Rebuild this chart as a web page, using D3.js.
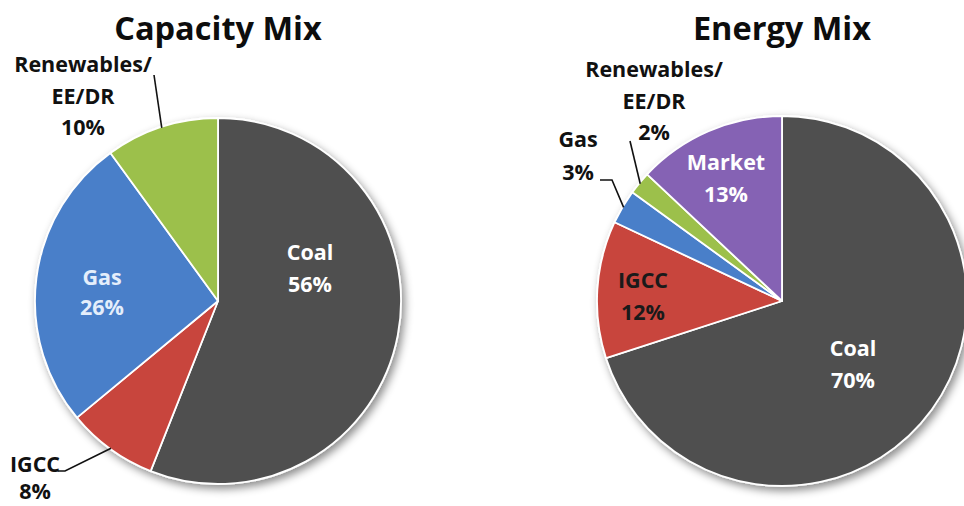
<!DOCTYPE html>
<html>
<head>
<meta charset="utf-8">
<script src="https://cdn.jsdelivr.net/npm/d3@7"></script>
<style>
  html, body { margin: 0; padding: 0; background: #ffffff; }
  svg { display: block; }
  text { font-family: "Open Sans", "Noto Sans", sans-serif; font-weight: 700; }
</style>
</head>
<body>
<svg id="chart" width="964" height="506"></svg>
<script>
// Generation capacity and energy shares (percent)
const capacityCategories = ["Coal", "IGCC", "Gas", "Renewables/EE/DR"];
const capacityShares = [56, 8, 26, 10];

const energyCategories = ["Coal", "IGCC", "Gas", "Renewables/EE/DR", "Market"];
const energyShares = [70, 12, 3, 2, 13];

const titles = ["Capacity Mix", "Energy Mix"];

// Fill colour per resource type
const colorScale = d3.scaleOrdinal()
  .domain(["Coal", "IGCC", "Gas", "Renewables/EE/DR", "Market"])
  .range(["#505050", "#c8453e", "#4a7fc9", "#9cc04b", "#8562b4"]);

// How each category's name is split over lines
const nameLines = {
  "Coal": ["Coal"],
  "IGCC": ["IGCC"],
  "Gas": ["Gas"],
  "Market": ["Market"],
  "Renewables/EE/DR": ["Renewables/", "EE/DR"]
};

// Layout of each pie: centre, radius, label anchors (relative to centre) and leader lines
const pies = [
  {
    title: titles[0], categories: capacityCategories, values: capacityShares,
    cx: 218, cy: 301, r: 183,
    labels: {
      "Coal": { dx: 92, dy: -41, fill: "#ffffff" },
      "IGCC": { dx: -183, dy: 171, fill: "#111111", gap: 27, leader: [[-160, 170], [-153, 170]] },
      "Gas": { dx: -116, dy: -16, fill: "#e4eefb", gap: 30 },
      "Renewables/EE/DR": { dx: -135, dy: -229, fill: "#111111", leader: [[-64, -226]] }
    }
  },
  {
    title: titles[1], categories: energyCategories, values: energyShares,
    cx: 782, cy: 301, r: 185,
    labels: {
      "Coal": { dx: 71, dy: 55, fill: "#ffffff" },
      "IGCC": { dx: -139, dy: -13, fill: "#1a1a1a" },
      "Gas": { dx: -204, dy: -154, fill: "#111111", gap: 33, leader: [[-182, -121], [-170, -121]] },
      "Renewables/EE/DR": { dx: -128, dy: -224, fill: "#111111", leader: [[-152, -160]] },
      "Market": { dx: -56, dy: -131, fill: "#ffffff" }
    }
  }
];

const svg = d3.select("#chart");

// Soft outer shadow under each pie
const defs = svg.append("defs");
const shadow = defs.append("filter")
  .attr("id", "pieShadow")
  .attr("x", "-20%").attr("y", "-20%")
  .attr("width", "140%").attr("height", "140%");
shadow.append("feDropShadow")
  .attr("dx", 3).attr("dy", 4)
  .attr("stdDeviation", 4)
  .attr("flood-color", "#000000")
  .attr("flood-opacity", 0.45);

const pieLayout = d3.pie().sort(null).value(d => d.value);
const lineHeight = 31.5;

pies.forEach(p => {
  const data = p.categories.map((c, i) => ({ category: c, value: p.values[i] }));
  const arcs = pieLayout(data);
  const arc = d3.arc().innerRadius(0).outerRadius(p.r);

  const g = svg.append("g").attr("transform", `translate(${p.cx},${p.cy})`);

  // Title
  svg.append("text")
    .attr("x", p.cx)
    .attr("y", 40)
    .attr("text-anchor", "middle")
    .attr("font-size", 32.5)
    .attr("fill", "#0d0d0d")
    .text(p.title);

  // Slices
  const slices = g.append("g").attr("filter", "url(#pieShadow)");
  slices.selectAll("path")
    .data(arcs)
    .join("path")
    .attr("d", arc)
    .attr("fill", d => colorScale(d.data.category))
    .attr("stroke", "#ffffff")
    .attr("stroke-width", 1.8)
    .attr("stroke-linejoin", "round");

  // Leader lines from outside labels to the slice's outer edge
  arcs.forEach(d => {
    const lab = p.labels[d.data.category];
    if (!lab || !lab.leader) return;
    const mid = (d.startAngle + d.endAngle) / 2;
    const edge = [Math.sin(mid) * (p.r - 1), -Math.cos(mid) * (p.r - 1)];
    g.append("path")
      .attr("d", d3.line()(lab.leader.concat([edge])))
      .attr("fill", "none")
      .attr("stroke", "#111111")
      .attr("stroke-width", 1.6);
  });

  // Category and percentage labels
  arcs.forEach(d => {
    const lab = p.labels[d.data.category];
    const lines = nameLines[d.data.category].concat([`${d.data.value}%`]);
    const gap = lab.gap || lineHeight;
    const t = g.append("text")
      .attr("text-anchor", "middle")
      .attr("font-size", 21.5)
      .attr("fill", lab.fill);
    lines.forEach((s, i) => {
      t.append("tspan")
        .attr("x", lab.dx)
        .attr("y", lab.dy + i * gap)
        .text(s);
    });
  });
});
</script>
</body>
</html>
